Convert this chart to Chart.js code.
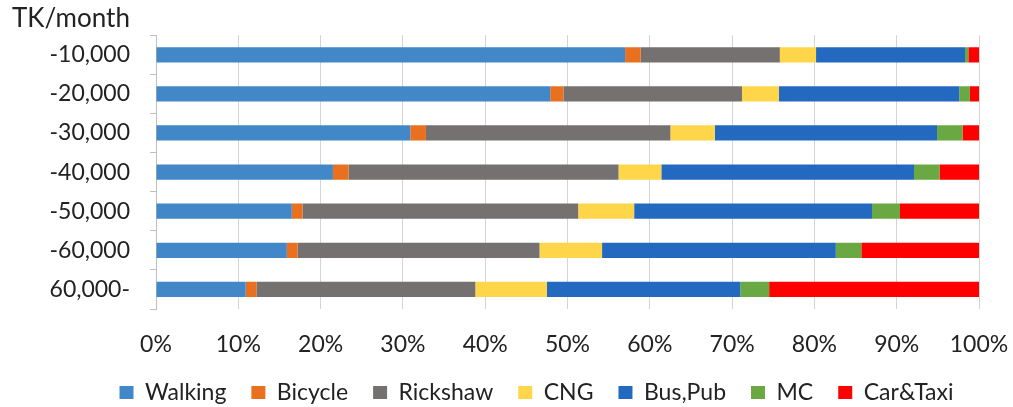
<!DOCTYPE html>
<html>
<head>
<meta charset="utf-8">
<script src="https://cdn.jsdelivr.net/npm/chart.js@4/dist/chart.umd.min.js"></script>
<style>
  html, body { margin: 0; padding: 0; background: #ffffff; }
  #wrap { width: 1013px; height: 407px; }
</style>
</head>
<body>
<div id="wrap"><canvas id="c" width="1013" height="407"></canvas></div>
<script>
// Monthly household income bands
const incomeBands = ['-10,000', '-20,000', '-30,000', '-40,000', '-50,000', '-60,000', '60,000-'];

// Modal share (%) per income band
const walking  = [57.0, 47.9, 30.9, 21.5, 16.5, 15.9, 10.9];
const bicycle  = [1.9, 1.6, 1.9, 1.9, 1.3, 1.3, 1.3];
const rickshaw = [16.9, 21.7, 29.7, 32.8, 33.5, 29.4, 26.6];
const cng      = [4.4, 4.5, 5.4, 5.2, 6.8, 7.6, 8.7];
const busPub   = [18.1, 21.9, 27.0, 30.7, 28.9, 28.4, 23.5];
const mc       = [0.4, 1.3, 3.1, 3.1, 3.4, 3.1, 3.5];
const carTaxi  = [1.3, 1.1, 2.0, 4.8, 9.6, 14.3, 25.5];

const percentTicks = [0, 10, 20, 30, 40, 50, 60, 70, 80, 90, 100];

const FONT = 'Lato, "Open Sans", sans-serif';
const TEXT = '#222222';

const series = [
  { label: 'Walking',  data: walking,  color: '#4287c8' },
  { label: 'Bicycle',  data: bicycle,  color: '#e8701e' },
  { label: 'Rickshaw', data: rickshaw, color: '#767171' },
  { label: 'CNG',      data: cng,      color: '#ffd54a' },
  { label: 'Bus,Pub',  data: busPub,   color: '#2469c0' },
  { label: 'MC',       data: mc,       color: '#6aa843' },
  { label: 'Car&Taxi', data: carTaxi,  color: '#ff0000' }
];

// Keeps the legend strip compact and nudges it under the plot
const legendPlacement = {
  id: 'legendPlacement',
  beforeLayout(chart) {
    const lg = chart.legend;
    if (lg && !lg._compactFit) {
      const fit = lg.fit;
      lg.fit = function () {
        fit.call(this);
        this.height = 51;
      };
      lg._compactFit = true;
    }
  },
  afterLayout(chart) {
    const lg = chart.legend;
    if (lg) {
      lg.left += 41;
      lg.right += 41;
    }
  }
};

new Chart(document.getElementById('c'), {
  type: 'bar',
  data: {
    labels: incomeBands,
    datasets: series.map(s => ({
      label: s.label,
      data: s.data,
      backgroundColor: s.color,
      borderWidth: 0,
      categoryPercentage: 1,
      barPercentage: 0.39
    }))
  },
  options: {
    indexAxis: 'y',
    responsive: false,
    animation: false,
    layout: { padding: { left: 12, right: 34, top: 0, bottom: 0 } },
    plugins: {
      title: {
        display: true,
        text: 'TK/month',
        align: 'start',
        color: TEXT,
        font: { family: FONT, size: 26, weight: 'normal' },
        padding: { top: 3, bottom: 1 }
      },
      legend: {
        position: 'bottom',
        labels: {
          color: TEXT,
          font: { family: FONT, size: 23 },
          boxWidth: 14,
          boxHeight: 13,
          padding: 25
        }
      },
      tooltip: { enabled: false }
    },
    scales: {
      x: {
        stacked: true,
        min: 0,
        max: 100,
        afterBuildTicks(scale) {
          scale.ticks = percentTicks.map(v => ({ value: v }));
        },
        afterFit(scale) {
          scale.height = 47;
          scale.paddingRight = 0;
        },
        ticks: {
          color: TEXT,
          font: { family: FONT, size: 23 },
          padding: 22,
          callback: v => v + '%'
        },
        grid: { color: '#d4d4d4', lineWidth: 1, drawTicks: false },
        border: { display: false }
      },
      y: {
        stacked: true,
        afterFit(scale) { scale.width = 144; },
        ticks: {
          color: TEXT,
          font: { family: FONT, size: 23 },
          padding: 20
        },
        grid: { drawOnChartArea: false, offset: true, tickLength: 6, color: '#bfbfbf' },
        border: { display: true, color: '#bfbfbf' }
      }
    }
  },
  plugins: [legendPlacement]
});
</script>
</body>
</html>
